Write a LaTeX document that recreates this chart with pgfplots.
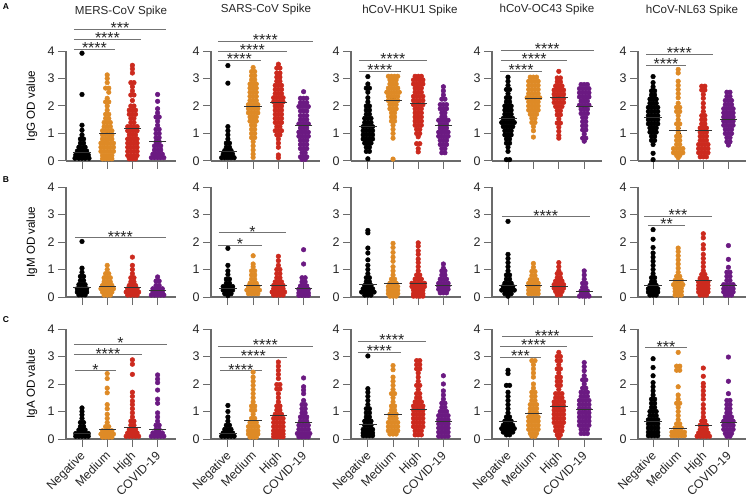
\documentclass[border=0pt]{standalone}
\usepackage{fontspec}
\setmainfont{Liberation Sans}
\usepackage{pgfplots}
\pgfplotsset{compat=1.18}
\definecolor{cor}{HTML}{DE8A26}
\definecolor{crd}{HTML}{CC2A1E}
\definecolor{cpp}{HTML}{6B1A82}
\definecolor{axc}{gray}{0.42}
\pgfplotsset{
  pnl/.style={scale only axis,height=110pt,ymin=0,ymax=4,clip=false,
    axis y line*=left,axis x line*=bottom,axis line style={axc,line width=1.1pt,-},
    tick style={axc,line width=1pt},tick align=outside,major tick length=8pt,
    ytick={0,1,2,3,4},xtick={0,1,2,3},xticklabels={},
    /pgf/number format/assume math mode=true,
    tick label style={font=\fontsize{12.5}{12.5}\selectfont,text=black!85},
    ylabel style={font=\fontsize{11.6}{12}\selectfont,at={(axis description cs:-.31,.5)},anchor=center}},
  low/.style={xticklabels={Negative,Medium,High,COVID-19},
    x tick label style={rotate=45,anchor=north east,inner sep=1pt,xshift=-3pt,yshift=.5pt,font=\fontsize{12.2}{12.2}\selectfont}},
  % swarm offsets squeezed towards the category centre
  dot/.style={only marks,mark=*,color=#1,line width=.5pt,mark size=2.3pt,mark options={solid,fill=#1},forget plot,
    x filter/.expression={round(x)+.62*(x-round(x))}},
  mn/.style={only marks,mark=-,mark size=8.7pt,mark options={draw=black!80,line width=.7pt},forget plot,
    error bars/.cd,y dir=both,y explicit,error mark options={rotate=90,mark size=2.6pt,line width=.6pt,black},
    error bar style={black!80,line width=.7pt}},
  sg/.style={black!55,line width=1pt,forget plot}
}
\newcommand{\sig}[4]{\addplot[sg] coordinates {(#1,#3)(#2,#3)} node[pos=.5,anchor=base,yshift=-4.3pt,inner sep=0pt,text=black!85,font=\fontsize{16}{16}\selectfont]{#4};}
\newcommand{\ttl}[3]{\node[font=\fontsize{11.6}{12}\selectfont,text=black!85] at (#1pt,#2pt) {#3};}
\begin{document}
\begin{tikzpicture}
\path[use as bounding box] (0pt,0pt) rectangle (750pt,496pt);
\ttl{121}{484}{MERS-CoV Spike}
\ttl{266}{486}{SARS-CoV Spike}
\ttl{410}{485}{hCoV-HKU1 Spike}
\ttl{547}{486}{hCoV-OC43 Spike}
\ttl{692}{485}{hCoV-NL63 Spike}
\node[font=\bfseries\fontsize{8.5}{9}\selectfont] at (6pt,489pt) {A};
\node[font=\bfseries\fontsize{8.5}{9}\selectfont] at (6pt,316pt) {B};
\node[font=\bfseries\fontsize{8.5}{9}\selectfont] at (6pt,176pt) {C};

% row A: IgG
\begin{axis}[pnl,name=a1,at={(66pt,335pt)},anchor=south west,width=110pt,xmin=-.635,xmax=3.73,ylabel={IgG OD value}]
\addplot[dot=black] coordinates {(0,3.92)(0,2.42)(0,1.3)(0,1.12)(0,.95)(-.1,.8)(.1,.8)(-.1,.65)(.1,.65)(-.2,.5)(0,.5)(.2,.5)(-.3,.36)(-.1,.36)(.1,.36)(.3,.36)(-.4,.22)(-.2,.22)(0,.22)(.2,.22)(.4,.22)(-.45,.1)(-.2,.1)(0,.1)(.2,.1)(.45,.1)};
\addplot[dot=cor] coordinates {(1,3.13)(1,3)(1,2.85)(.9,2.65)(1.1,2.65)(1.1,2.5)(1,2.28)(.9,2.15)(1.1,2.15)(1,2)(1,1.85)(.9,1.7)(1.1,1.7)(.9,1.55)(1.1,1.55)(.8,1.4)(1,1.4)(1.2,1.4)(.8,1.25)(1,1.25)(1.2,1.25)(.7,1.1)(.9,1.1)(1.1,1.1)(1.3,1.1)(.7,.95)(.9,.95)(1.1,.95)(1.3,.95)(.7,.8)(.9,.8)(1.1,.8)(1.3,.8)(.6,.65)(.8,.65)(1,.65)(1.2,.65)(1.4,.65)(.6,.5)(.8,.5)(1,.5)(1.2,.5)(1.4,.5)(.6,.35)(.8,.35)(1,.35)(1.2,.35)(1.4,.35)(.7,.2)(.9,.2)(1.1,.2)(1.3,.2)(.7,.08)(.9,.08)(1.1,.08)(1.3,.08)};
\addplot[dot=crd] coordinates {(2,3.48)(2,3.35)(2,3.2)(1.9,2.85)(2.1,2.85)(2,2.7)(2,2.55)(1.9,2.4)(2.1,2.4)(2,2.2)(1.9,2)(2.1,2)(1.8,1.85)(2,1.85)(2.2,1.85)(1.8,1.7)(2,1.7)(2.2,1.7)(1.9,1.55)(2.1,1.55)(1.9,1.4)(2.1,1.4)(1.7,1.25)(1.9,1.25)(2.1,1.25)(2.3,1.25)(1.7,1.1)(1.9,1.1)(2.1,1.1)(2.3,1.1)(1.8,.95)(2,.95)(2.2,.95)(1.7,.8)(1.9,.8)(2.1,.8)(2.3,.8)(1.7,.65)(1.9,.65)(2.1,.65)(2.3,.65)(1.7,.5)(1.9,.5)(2.1,.5)(2.3,.5)(1.7,.35)(1.9,.35)(2.1,.35)(2.3,.35)(1.7,.2)(1.9,.2)(2.1,.2)(2.3,.2)(1.8,.08)(2,.08)(2.2,.08)};
\addplot[dot=cpp] coordinates {(3,2.42)(3,2.17)(3,1.9)(3,1.75)(2.9,1.6)(3.1,1.6)(3,1.45)(3,1.3)(2.9,1.15)(3.1,1.15)(2.9,1)(3.1,1)(2.9,.85)(3.1,.85)(2.9,.7)(3.1,.7)(2.8,.55)(3,.55)(3.2,.55)(2.8,.4)(3,.4)(3.2,.4)(2.7,.25)(2.9,.25)(3.1,.25)(3.3,.25)(2.6,.12)(2.8,.12)(3,.12)(3.2,.12)(3.4,.12)};
\addplot[mn] coordinates {(0,.33)+-(.38,.03)(1,1)+-(.38,.06)(2,1.2)+-(.38,.07)(3,.72)+-(.38,.08)};
\sig{-.32}{1.31}{4.07}{****}
\sig{-.32}{2.34}{4.42}{****}
\sig{-.32}{3.33}{4.79}{***}
\end{axis}

\begin{axis}[pnl,at={(211pt,335pt)},anchor=south west,width=109pt,xmin=-.67,xmax=3.65]
\addplot[dot=black] coordinates {(0,3.47)(0,2.83)(0,1.25)(0,1.1)(0,.95)(0,.8)(-.1,.65)(.1,.65)(-.1,.5)(.1,.5)(-.2,.38)(0,.38)(.2,.38)(-.3,.25)(-.1,.25)(.1,.25)(.3,.25)(-.4,.12)(-.2,.12)(0,.12)(.2,.12)(.4,.12)};
\addplot[dot=cor] coordinates {(1,3.4)(.9,3.25)(1.1,3.25)(.9,3.1)(1.1,3.1)(.9,2.95)(1.1,2.95)(.8,2.8)(1,2.8)(1.2,2.8)(.8,2.65)(1,2.65)(1.2,2.65)(.8,2.5)(1,2.5)(1.2,2.5)(.8,2.35)(1,2.35)(1.2,2.35)(.8,2.2)(1,2.2)(1.2,2.2)(.7,2.05)(.9,2.05)(1.1,2.05)(1.3,2.05)(.7,1.9)(.9,1.9)(1.1,1.9)(1.3,1.9)(.7,1.75)(.9,1.75)(1.1,1.75)(1.3,1.75)(.8,1.6)(1,1.6)(1.2,1.6)(.8,1.45)(1,1.45)(1.2,1.45)(.9,1.3)(1.1,1.3)(.9,1.15)(1.1,1.15)(.9,1)(1.1,1)(.9,.85)(1.1,.85)(1,.7)(1,.55)(1,.4)(1,.25)(1,.13)};
\addplot[dot=crd] coordinates {(2,3.52)(1.9,3.38)(2.1,3.38)(1.9,3.2)(2.1,3.2)(1.9,3.05)(2.1,3.05)(1.9,2.9)(2.1,2.9)(1.8,2.75)(2,2.75)(2.2,2.75)(1.8,2.6)(2,2.6)(2.2,2.6)(1.8,2.45)(2,2.45)(2.2,2.45)(1.7,2.3)(1.9,2.3)(2.1,2.3)(2.3,2.3)(1.7,2.15)(1.9,2.15)(2.1,2.15)(2.3,2.15)(1.8,2)(2,2)(2.2,2)(1.8,1.85)(2,1.85)(2.2,1.85)(1.8,1.7)(2,1.7)(2.2,1.7)(1.8,1.55)(2,1.55)(2.2,1.55)(1.8,1.4)(2,1.4)(2.2,1.4)(1.9,1.25)(2.1,1.25)(1.8,1.1)(2,1.1)(2.2,1.1)(1.9,.95)(2.1,.95)(2,.8)(2,.65)(2,.5)(2,.22)(2,.12)};
\addplot[dot=cpp] coordinates {(3,2.52)(2.8,2.28)(3,2.28)(3.2,2.28)(2.8,2.12)(3,2.12)(3.2,2.12)(2.7,1.98)(2.9,1.98)(3.1,1.98)(3.3,1.98)(2.8,1.82)(3,1.82)(3.2,1.82)(2.8,1.65)(3,1.65)(3.2,1.65)(2.8,1.5)(3,1.5)(3.2,1.5)(2.7,1.35)(2.9,1.35)(3.1,1.35)(3.3,1.35)(2.8,1.2)(3,1.2)(3.2,1.2)(2.7,1.05)(2.9,1.05)(3.1,1.05)(3.3,1.05)(2.7,.9)(2.9,.9)(3.1,.9)(3.3,.9)(2.8,.75)(3,.75)(3.2,.75)(2.8,.6)(3,.6)(3.2,.6)(2.8,.45)(3,.45)(3.2,.45)(2.9,.3)(3.1,.3)(2.8,.15)(3,.15)(3.2,.15)(2.9,.06)(3.1,.06)};
\addplot[mn] coordinates {(0,.35)+-(.38,.03)(1,1.98)+-(.38,.06)(2,2.13)+-(.38,.06)(3,1.3)+-(.38,.07)};
\sig{-.4}{1.31}{3.65}{****}
\sig{-.4}{2.34}{4}{****}
\sig{-.4}{3.37}{4.35}{****}
\end{axis}

\begin{axis}[pnl,at={(351pt,335pt)},anchor=south west,width=110pt,xmin=-.67,xmax=3.7]
\addplot[dot=black] coordinates {(0,3.07)(0,2.8)(-.1,2.65)(.1,2.65)(0,2.5)(0,2.3)(0,2.15)(-.1,2)(.1,2)(-.1,1.85)(.1,1.85)(-.1,1.7)(.1,1.7)(-.2,1.55)(0,1.55)(.2,1.55)(-.2,1.4)(0,1.4)(.2,1.4)(-.3,1.25)(-.1,1.25)(.1,1.25)(.3,1.25)(-.3,1.1)(-.1,1.1)(.1,1.1)(.3,1.1)(-.3,.95)(-.1,.95)(.1,.95)(.3,.95)(-.3,.8)(-.1,.8)(.1,.8)(.3,.8)(-.2,.65)(0,.65)(.2,.65)(-.1,.5)(.1,.5)(-.1,.35)(.1,.35)(0,.08)};
\addplot[dot=cor] coordinates {(.7,3.08)(.9,3.08)(1.1,3.08)(1.3,3.08)(.8,2.95)(1,2.95)(1.2,2.95)(.8,2.8)(1,2.8)(1.2,2.8)(.7,2.65)(.9,2.65)(1.1,2.65)(1.3,2.65)(.6,2.5)(.8,2.5)(1,2.5)(1.2,2.5)(1.4,2.5)(.7,2.35)(.9,2.35)(1.1,2.35)(1.3,2.35)(.7,2.2)(.9,2.2)(1.1,2.2)(1.3,2.2)(.8,2.05)(1,2.05)(1.2,2.05)(.8,1.9)(1,1.9)(1.2,1.9)(.9,1.75)(1.1,1.75)(.9,1.6)(1.1,1.6)(.9,1.45)(1.1,1.45)(1,1.3)(1,1.15)(1,1)(1,.83)(1,.07)};
\addplot[dot=crd] coordinates {(1.8,3.08)(2,3.08)(2.2,3.08)(1.7,2.95)(1.9,2.95)(2.1,2.95)(2.3,2.95)(1.7,2.8)(1.9,2.8)(2.1,2.8)(2.3,2.8)(1.8,2.65)(2,2.65)(2.2,2.65)(1.8,2.5)(2,2.5)(2.2,2.5)(1.7,2.35)(1.9,2.35)(2.1,2.35)(2.3,2.35)(1.7,2.2)(1.9,2.2)(2.1,2.2)(2.3,2.2)(1.7,2.05)(1.9,2.05)(2.1,2.05)(2.3,2.05)(1.8,1.9)(2,1.9)(2.2,1.9)(1.8,1.75)(2,1.75)(2.2,1.75)(1.8,1.6)(2,1.6)(2.2,1.6)(1.8,1.45)(2,1.45)(2.2,1.45)(1.8,1.3)(2,1.3)(2.2,1.3)(1.9,1.15)(2.1,1.15)(1.9,1)(2.1,1)(2,.88)(1.9,.63)(2.1,.63)(2,.45)(2,.33)};
\addplot[dot=cpp] coordinates {(3,2.7)(3,2.55)(3,2.4)(2.9,2.25)(3.1,2.25)(2.8,2.05)(3,2.05)(3.2,2.05)(2.8,1.9)(3,1.9)(3.2,1.9)(2.9,1.75)(3.1,1.75)(2.9,1.6)(3.1,1.6)(2.7,1.48)(2.9,1.48)(3.1,1.48)(3.3,1.48)(2.8,1.33)(3,1.33)(3.2,1.33)(2.8,1.2)(3,1.2)(3.2,1.2)(2.7,1.05)(2.9,1.05)(3.1,1.05)(3.3,1.05)(2.7,.9)(2.9,.9)(3.1,.9)(3.3,.9)(2.8,.75)(3,.75)(3.2,.75)(2.8,.6)(3,.6)(3.2,.6)(2.9,.45)(3.1,.45)(2.9,.3)(3.1,.3)};
\addplot[mn] coordinates {(0,1.25)+-(.38,.03)(1,2.22)+-(.38,.06)(2,2.08)+-(.38,.06)(3,1.28)+-(.38,.06)};
\sig{-.36}{1.31}{3.27}{****}
\sig{-.36}{2.34}{3.66}{****}
\end{axis}

\begin{axis}[pnl,at={(492pt,335pt)},anchor=south west,width=110pt,xmin=-.63,xmax=3.7]
\addplot[dot=black] coordinates {(0,3.05)(0,2.9)(0,2.75)(-.1,2.6)(.1,2.6)(0,2.45)(-.1,2.3)(.1,2.3)(-.1,2.15)(.1,2.15)(-.2,2)(0,2)(.2,2)(-.2,1.85)(0,1.85)(.2,1.85)(-.2,1.7)(0,1.7)(.2,1.7)(-.3,1.55)(-.1,1.55)(.1,1.55)(.3,1.55)(-.4,1.4)(-.2,1.4)(0,1.4)(.2,1.4)(.4,1.4)(-.3,1.25)(-.1,1.25)(.1,1.25)(.3,1.25)(-.2,1.1)(0,1.1)(.2,1.1)(-.2,.95)(0,.95)(.2,.95)(-.1,.8)(.1,.8)(-.1,.65)(.1,.65)(0,.5)(0,.35)(-.1,.05)(.1,.05)};
\addplot[dot=cor] coordinates {(.8,3.05)(1,3.05)(1.2,3.05)(.7,2.9)(.9,2.9)(1.1,2.9)(1.3,2.9)(.7,2.75)(.9,2.75)(1.1,2.75)(1.3,2.75)(.7,2.6)(.9,2.6)(1.1,2.6)(1.3,2.6)(.7,2.45)(.9,2.45)(1.1,2.45)(1.3,2.45)(.6,2.3)(.8,2.3)(1,2.3)(1.2,2.3)(1.4,2.3)(.7,2.15)(.9,2.15)(1.1,2.15)(1.3,2.15)(.7,2)(.9,2)(1.1,2)(1.3,2)(.7,1.85)(.9,1.85)(1.1,1.85)(1.3,1.85)(.8,1.7)(1,1.7)(1.2,1.7)(.9,1.55)(1.1,1.55)(.9,1.4)(1.1,1.4)(1,1.25)(1,1.1)(1,.87)};
\addplot[dot=crd] coordinates {(2,3.26)(1.9,3.02)(2.1,3.02)(1.9,2.88)(2.1,2.88)(1.8,2.73)(2,2.73)(2.2,2.73)(1.7,2.58)(1.9,2.58)(2.1,2.58)(2.3,2.58)(1.7,2.43)(1.9,2.43)(2.1,2.43)(2.3,2.43)(1.7,2.28)(1.9,2.28)(2.1,2.28)(2.3,2.28)(1.7,2.13)(1.9,2.13)(2.1,2.13)(2.3,2.13)(1.8,1.98)(2,1.98)(2.2,1.98)(1.9,1.83)(2.1,1.83)(1.9,1.68)(2.1,1.68)(2,1.53)(1.9,1.38)(2.1,1.38)(2,1.23)(2,1.08)(2,.93)(2,.83)};
\addplot[dot=cpp] coordinates {(2.8,2.78)(3,2.78)(3.2,2.78)(2.7,2.63)(2.9,2.63)(3.1,2.63)(3.3,2.63)(2.7,2.48)(2.9,2.48)(3.1,2.48)(3.3,2.48)(2.7,2.33)(2.9,2.33)(3.1,2.33)(3.3,2.33)(2.8,2.18)(3,2.18)(3.2,2.18)(2.7,2.03)(2.9,2.03)(3.1,2.03)(3.3,2.03)(2.8,1.88)(3,1.88)(3.2,1.88)(2.8,1.73)(3,1.73)(3.2,1.73)(2.9,1.58)(3.1,1.58)(2.9,1.43)(3.1,1.43)(2.9,1.28)(3.1,1.28)(2.9,1.13)(3.1,1.13)(3,.98)(2.9,.83)(3.1,.83)(3,.72)};
\addplot[mn] coordinates {(0,1.55)+-(.38,.03)(1,2.28)+-(.38,.04)(2,2.3)+-(.38,.04)(3,2)+-(.38,.05)};
\sig{-.32}{1.35}{3.27}{****}
\sig{-.28}{2.34}{3.65}{****}
\sig{-.28}{3.37}{4.03}{****}
\end{axis}

\begin{axis}[pnl,at={(638pt,335pt)},anchor=south west,width=108pt,xmin=-.6,xmax=3.7]
\addplot[dot=black] coordinates {(0,3.07)(0,2.85)(0,2.7)(-.1,2.55)(.1,2.55)(-.1,2.4)(.1,2.4)(-.2,2.25)(0,2.25)(.2,2.25)(-.2,2.1)(0,2.1)(.2,2.1)(-.3,1.95)(-.1,1.95)(.1,1.95)(.3,1.95)(-.3,1.8)(-.1,1.8)(.1,1.8)(.3,1.8)(-.3,1.65)(-.1,1.65)(.1,1.65)(.3,1.65)(-.3,1.5)(-.1,1.5)(.1,1.5)(.3,1.5)(-.3,1.35)(-.1,1.35)(.1,1.35)(.3,1.35)(-.2,1.2)(0,1.2)(.2,1.2)(-.2,1.05)(0,1.05)(.2,1.05)(-.1,.9)(.1,.9)(-.1,.75)(.1,.75)(0,.6)(0,.28)(0,.05)};
\addplot[dot=cor] coordinates {(1,3.33)(1,3.2)(1,2.9)(1,2.75)(1,2.6)(1,2.45)(1,2.3)(1,2.1)(.9,1.95)(1.1,1.95)(.9,1.8)(1.1,1.8)(1,1.65)(1,1.5)(.9,1.35)(1.1,1.35)(1,1.2)(1,1.05)(.9,.9)(1.1,.9)(.9,.75)(1.1,.75)(.9,.6)(1.1,.6)(.7,.45)(.9,.45)(1.1,.45)(1.3,.45)(.7,.3)(.9,.3)(1.1,.3)(1.3,.3)(.9,.2)(1.1,.2)(1,.12)};
\addplot[dot=crd] coordinates {(1.9,2.72)(2.1,2.72)(1.9,2.58)(2.1,2.58)(2,2.42)(2,2.28)(2,2.1)(2,1.95)(2,1.8)(1.9,1.65)(2.1,1.65)(1.9,1.5)(2.1,1.5)(1.9,1.35)(2.1,1.35)(1.8,1.2)(2,1.2)(2.2,1.2)(1.8,1.05)(2,1.05)(2.2,1.05)(1.8,.9)(2,.9)(2.2,.9)(1.8,.75)(2,.75)(2.2,.75)(1.7,.6)(1.9,.6)(2.1,.6)(2.3,.6)(1.7,.45)(1.9,.45)(2.1,.45)(2.3,.45)(1.7,.3)(1.9,.3)(2.1,.3)(2.3,.3)(1.8,.15)(2,.15)(2.2,.15)};
\addplot[dot=cpp] coordinates {(2.9,2.5)(3.1,2.5)(2.9,2.35)(3.1,2.35)(2.8,2.2)(3,2.2)(3.2,2.2)(2.8,2.05)(3,2.05)(3.2,2.05)(2.7,1.9)(2.9,1.9)(3.1,1.9)(3.3,1.9)(2.7,1.75)(2.9,1.75)(3.1,1.75)(3.3,1.75)(2.7,1.6)(2.9,1.6)(3.1,1.6)(3.3,1.6)(2.7,1.45)(2.9,1.45)(3.1,1.45)(3.3,1.45)(2.7,1.3)(2.9,1.3)(3.1,1.3)(3.3,1.3)(2.8,1.15)(3,1.15)(3.2,1.15)(2.8,1)(3,1)(3.2,1)(2.9,.85)(3.1,.85)(2.9,.7)(3.1,.7)(3,.58)};
\addplot[mn] coordinates {(0,1.58)+-(.38,.03)(1,1.1)+-(.38,.08)(2,1.1)+-(.38,.07)(3,1.53)+-(.38,.06)};
\sig{-.28}{1.31}{3.47}{****}
\sig{-.28}{2.38}{3.87}{****}
\end{axis}

% row B: IgM
\begin{axis}[pnl,at={(66pt,199pt)},anchor=south west,width=110pt,xmin=-.635,xmax=3.73,ylabel={IgM OD value}]
\addplot[dot=black] coordinates {(0,2.02)(0,1.05)(0,.9)(-.1,.75)(.1,.75)(-.1,.6)(.1,.6)(-.2,.45)(0,.45)(.2,.45)(-.3,.3)(-.1,.3)(.1,.3)(.3,.3)(-.3,.18)(-.1,.18)(.1,.18)(.3,.18)(-.2,.08)(0,.08)(.2,.08)};
\addplot[dot=cor] coordinates {(1,1.15)(1,1)(.9,.85)(1.1,.85)(.8,.7)(1,.7)(1.2,.7)(.8,.55)(1,.55)(1.2,.55)(.7,.42)(.9,.42)(1.1,.42)(1.3,.42)(.6,.3)(.8,.3)(1,.3)(1.2,.3)(1.4,.3)(.7,.18)(.9,.18)(1.1,.18)(1.3,.18)(.8,.07)(1,.07)(1.2,.07)};
\addplot[dot=crd] coordinates {(2,1.45)(2,1.15)(2,1)(2,.85)(1.9,.7)(2.1,.7)(1.9,.55)(2.1,.55)(1.8,.42)(2,.42)(2.2,.42)(1.7,.3)(1.9,.3)(2.1,.3)(2.3,.3)(1.6,.18)(1.8,.18)(2,.18)(2.2,.18)(2.4,.18)(1.7,.07)(1.9,.07)(2.1,.07)(2.3,.07)};
\addplot[dot=cpp] coordinates {(3,.73)(2.9,.58)(3.1,.58)(2.9,.42)(3.1,.42)(2.7,.3)(2.9,.3)(3.1,.3)(3.3,.3)(2.7,.18)(2.9,.18)(3.1,.18)(3.3,.18)(2.6,.07)(2.8,.07)(3,.07)(3.2,.07)(3.4,.07)};
\addplot[mn] coordinates {(0,.35)+-(.38,.02)(1,.4)+-(.38,.02)(2,.35)+-(.38,.02)(3,.24)+-(.38,.02)};
\sig{-.28}{3.33}{2.15}{****}
\end{axis}

\begin{axis}[pnl,at={(211pt,199pt)},anchor=south west,width=109pt,xmin=-.67,xmax=3.65]
\addplot[dot=black] coordinates {(0,1.77)(0,1.15)(0,.95)(0,.82)(-.1,.65)(.1,.65)(-.1,.5)(.1,.5)(-.3,.38)(-.1,.38)(.1,.38)(.3,.38)(-.3,.25)(-.1,.25)(.1,.25)(.3,.25)(-.2,.12)(0,.12)(.2,.12)(0,.05)};
\addplot[dot=cor] coordinates {(1,1.5)(1,1.2)(1,1.1)(.9,.95)(1.1,.95)(.9,.8)(1.1,.8)(.9,.65)(1.1,.65)(.8,.5)(1,.5)(1.2,.5)(.7,.38)(.9,.38)(1.1,.38)(1.3,.38)(.6,.25)(.8,.25)(1,.25)(1.2,.25)(1.4,.25)(.7,.12)(.9,.12)(1.1,.12)(1.3,.12)};
\addplot[dot=crd] coordinates {(2,1.48)(2,1.32)(2,1.15)(1.9,1)(2.1,1)(1.9,.85)(2.1,.85)(1.9,.7)(2.1,.7)(1.8,.55)(2,.55)(2.2,.55)(1.7,.42)(1.9,.42)(2.1,.42)(2.3,.42)(1.7,.3)(1.9,.3)(2.1,.3)(2.3,.3)(1.6,.18)(1.8,.18)(2,.18)(2.2,.18)(2.4,.18)(1.7,.07)(1.9,.07)(2.1,.07)(2.3,.07)};
\addplot[dot=cpp] coordinates {(3,1.72)(3,1.2)(2.9,.7)(3.1,.7)(2.9,.55)(3.1,.55)(2.8,.4)(3,.4)(3.2,.4)(2.7,.28)(2.9,.28)(3.1,.28)(3.3,.28)(2.7,.15)(2.9,.15)(3.1,.15)(3.3,.15)(2.7,.06)(2.9,.06)(3.1,.06)(3.3,.06)};
\addplot[mn] coordinates {(0,.33)+-(.38,.02)(1,.44)+-(.38,.02)(2,.44)+-(.38,.02)(3,.33)+-(.38,.02)};
\sig{-.4}{1.35}{1.89}{*}
\sig{-.36}{2.3}{2.33}{*}
\end{axis}

\begin{axis}[pnl,at={(351pt,199pt)},anchor=south west,width=110pt,xmin=-.67,xmax=3.7]
\addplot[dot=black] coordinates {(0,2.42)(0,2.33)(0,1.78)(0,1.6)(0,1.35)(0,1.15)(0,1)(0,.85)(-.1,.7)(.1,.7)(-.1,.55)(.1,.55)(-.2,.42)(0,.42)(.2,.42)(-.3,.3)(-.1,.3)(.1,.3)(.3,.3)(-.4,.18)(-.2,.18)(0,.18)(.2,.18)(.4,.18)(-.2,.07)(0,.07)(.2,.07)};
\addplot[dot=cor] coordinates {(1,1.95)(1,1.8)(1,1.62)(1,1.45)(1,1.3)(1,1.1)(1,.95)(1,.8)(.9,.65)(1.1,.65)(.8,.5)(1,.5)(1.2,.5)(.7,.38)(.9,.38)(1.1,.38)(1.3,.38)(.7,.25)(.9,.25)(1.1,.25)(1.3,.25)(.7,.12)(.9,.12)(1.1,.12)(1.3,.12)(.8,.03)(1,.03)(1.2,.03)};
\addplot[dot=crd] coordinates {(2,1.97)(2,1.85)(2,1.68)(2,1.55)(2,1.38)(2,1.25)(2,1.1)(2,.95)(1.9,.8)(2.1,.8)(1.8,.65)(2,.65)(2.2,.65)(1.6,.5)(1.8,.5)(2,.5)(2.2,.5)(2.4,.5)(1.6,.38)(1.8,.38)(2,.38)(2.2,.38)(2.4,.38)(1.7,.25)(1.9,.25)(2.1,.25)(2.3,.25)(1.7,.12)(1.9,.12)(2.1,.12)(2.3,.12)(1.7,.03)(1.9,.03)(2.1,.03)(2.3,.03)};
\addplot[dot=cpp] coordinates {(3,1.2)(3,1.05)(2.9,.95)(3.1,.95)(2.9,.8)(3.1,.8)(2.8,.65)(3,.65)(3.2,.65)(2.7,.5)(2.9,.5)(3.1,.5)(3.3,.5)(2.7,.4)(2.9,.4)(3.1,.4)(3.3,.4)(2.7,.28)(2.9,.28)(3.1,.28)(3.3,.28)(2.8,.15)(3,.15)(3.2,.15)};
\addplot[mn] coordinates {(0,.47)+-(.38,.03)(1,.5)+-(.38,.04)(2,.5)+-(.38,.03)(3,.43)+-(.38,.02)};
\end{axis}

\begin{axis}[pnl,at={(492pt,199pt)},anchor=south west,width=110pt,xmin=-.63,xmax=3.7]
\addplot[dot=black] coordinates {(0,2.75)(0,1.55)(0,1.4)(0,1.25)(0,1.1)(0,.95)(-.1,.8)(.1,.8)(-.1,.65)(.1,.65)(-.2,.5)(0,.5)(.2,.5)(-.3,.38)(-.1,.38)(.1,.38)(.3,.38)(-.4,.25)(-.2,.25)(0,.25)(.2,.25)(.4,.25)(-.2,.12)(0,.12)(.2,.12)(0,.03)};
\addplot[dot=cor] coordinates {(1,1.22)(1,1.08)(.9,.93)(1.1,.93)(.9,.78)(1.1,.78)(.8,.63)(1,.63)(1.2,.63)(.7,.5)(.9,.5)(1.1,.5)(1.3,.5)(.7,.38)(.9,.38)(1.1,.38)(1.3,.38)(.7,.25)(.9,.25)(1.1,.25)(1.3,.25)(.7,.12)(.9,.12)(1.1,.12)(1.3,.12)};
\addplot[dot=crd] coordinates {(2,1.25)(2,1.1)(2,.95)(1.9,.85)(2.1,.85)(1.9,.7)(2.1,.7)(1.8,.58)(2,.58)(2.2,.58)(1.7,.45)(1.9,.45)(2.1,.45)(2.3,.45)(1.7,.32)(1.9,.32)(2.1,.32)(2.3,.32)(1.8,.2)(2,.2)(2.2,.2)(1.9,.08)(2.1,.08)};
\addplot[dot=cpp] coordinates {(3,.95)(3,.8)(3,.65)(2.9,.5)(3.1,.5)(2.9,.35)(3.1,.35)(2.8,.22)(3,.22)(3.2,.22)(2.8,.1)(3,.1)(3.2,.1)(2.7,.03)(2.9,.03)(3.1,.03)(3.3,.03)};
\addplot[mn] coordinates {(0,.42)+-(.38,.02)(1,.41)+-(.38,.02)(2,.4)+-(.38,.02)(3,.21)+-(.38,.02)};
\sig{-.24}{3.21}{2.92}{****}
\end{axis}

\begin{axis}[pnl,at={(638pt,199pt)},anchor=south west,width=108pt,xmin=-.6,xmax=3.7]
\addplot[dot=black] coordinates {(0,2.45)(0,2.1)(0,1.8)(0,1.6)(0,1.45)(0,1.3)(0,1.15)(0,1)(0,.85)(-.1,.7)(.1,.7)(-.1,.55)(.1,.55)(-.2,.42)(0,.42)(.2,.42)(-.3,.3)(-.1,.3)(.1,.3)(.3,.3)(-.3,.18)(-.1,.18)(.1,.18)(.3,.18)(-.2,.07)(0,.07)(.2,.07)};
\addplot[dot=cor] coordinates {(1,1.78)(1,1.65)(1,1.5)(1,1.35)(1,1.2)(1,1.05)(1,.9)(.9,.75)(1.1,.75)(.8,.6)(1,.6)(1.2,.6)(.7,.45)(.9,.45)(1.1,.45)(1.3,.45)(.8,.32)(1,.32)(1.2,.32)(.8,.2)(1,.2)(1.2,.2)(.8,.07)(1,.07)(1.2,.07)};
\addplot[dot=crd] coordinates {(2,2.3)(2,2.15)(2,1.9)(2,1.75)(2,1.55)(2,1.4)(2,1.25)(2,1.1)(2,.95)(1.9,.82)(2.1,.82)(1.8,.68)(2,.68)(2.2,.68)(1.7,.55)(1.9,.55)(2.1,.55)(2.3,.55)(1.7,.42)(1.9,.42)(2.1,.42)(2.3,.42)(1.7,.3)(1.9,.3)(2.1,.3)(2.3,.3)(1.7,.18)(1.9,.18)(2.1,.18)(2.3,.18)(1.8,.07)(2,.07)(2.2,.07)};
\addplot[dot=cpp] coordinates {(3,1.87)(3,1.37)(3,1.08)(2.9,.9)(3.1,.9)(2.9,.75)(3.1,.75)(2.9,.6)(3.1,.6)(2.7,.45)(2.9,.45)(3.1,.45)(3.3,.45)(2.7,.3)(2.9,.3)(3.1,.3)(3.3,.3)(2.7,.18)(2.9,.18)(3.1,.18)(3.3,.18)(2.8,.07)(3,.07)(3.2,.07)};
\addplot[mn] coordinates {(0,.44)+-(.38,.03)(1,.6)+-(.38,.05)(2,.62)+-(.38,.03)(3,.43)+-(.38,.02)};
\sig{-.2}{1.27}{2.6}{**}
\sig{-.36}{2.34}{2.93}{***}
\end{axis}

% row C: IgA
\begin{axis}[pnl,low,at={(66pt,57pt)},anchor=south west,width=110pt,xmin=-.635,xmax=3.73,ylabel={IgA OD value}]
\addplot[dot=black] coordinates {(0,1.13)(0,1)(0,.88)(0,.75)(-.1,.6)(.1,.6)(-.1,.45)(.1,.45)(-.2,.33)(0,.33)(.2,.33)(-.4,.2)(-.2,.2)(0,.2)(.2,.2)(.4,.2)(-.4,.1)(-.2,.1)(0,.1)(.2,.1)(.4,.1)};
\addplot[dot=cor] coordinates {(1,2.38)(1,2.2)(1,1.85)(1,1.68)(1,1.25)(1,1.1)(1,.9)(1,.75)(1,.6)(.9,.45)(1.1,.45)(.7,.3)(.9,.3)(1.1,.3)(1.3,.3)(.6,.18)(.8,.18)(1,.18)(1.2,.18)(1.4,.18)(.7,.07)(.9,.07)(1.1,.07)(1.3,.07)};
\addplot[dot=crd] coordinates {(2,2.88)(2,2.72)(2,2.35)(2,1.7)(2,1.55)(2,1.38)(2,1.25)(2,1.1)(2,.95)(2,.8)(1.9,.65)(2.1,.65)(1.9,.5)(2.1,.5)(1.8,.35)(2,.35)(2.2,.35)(1.7,.22)(1.9,.22)(2.1,.22)(2.3,.22)(1.6,.1)(1.8,.1)(2,.1)(2.2,.1)(2.4,.1)};
\addplot[dot=cpp] coordinates {(3,2.33)(3,2.18)(3,2.05)(3,1.78)(3,1.45)(3,1.3)(3,.95)(3,.8)(3,.65)(2.9,.5)(3.1,.5)(2.9,.35)(3.1,.35)(2.7,.22)(2.9,.22)(3.1,.22)(3.3,.22)(2.6,.1)(2.8,.1)(3,.1)(3.2,.1)(3.4,.1)};
\addplot[mn] coordinates {(0,.2)+-(.38,.02)(1,.36)+-(.38,.03)(2,.42)+-(.38,.04)(3,.36)+-(.38,.04)};
\sig{-.28}{1.35}{2.48}{*}
\sig{-.32}{2.38}{3.06}{****}
\sig{-.32}{3.37}{3.44}{*}
\end{axis}

\begin{axis}[pnl,low,at={(211pt,57pt)},anchor=south west,width=109pt,xmin=-.67,xmax=3.65]
\addplot[dot=black] coordinates {(0,1.22)(0,1)(0,.8)(0,.65)(-.1,.5)(.1,.5)(-.2,.35)(0,.35)(.2,.35)(-.3,.22)(-.1,.22)(.1,.22)(.3,.22)(-.4,.1)(-.2,.1)(0,.1)(.2,.1)(.4,.1)};
\addplot[dot=cor] coordinates {(1,2.43)(1,2.25)(1,2.1)(1,1.95)(1,1.8)(1,1.65)(1,1.5)(1,1.35)(.9,1.2)(1.1,1.2)(.9,1.05)(1.1,1.05)(1,.9)(.9,.75)(1.1,.75)(.8,.6)(1,.6)(1.2,.6)(.7,.45)(.9,.45)(1.1,.45)(1.3,.45)(.7,.3)(.9,.3)(1.1,.3)(1.3,.3)(.7,.18)(.9,.18)(1.1,.18)(1.3,.18)(.8,.07)(1,.07)(1.2,.07)};
\addplot[dot=crd] coordinates {(2,2.8)(2,2.65)(2,2.5)(2,2.35)(2,2.2)(1.9,1.98)(2.1,1.98)(1.9,1.82)(2.1,1.82)(2,1.65)(2,1.5)(2,1.35)(1.9,1.2)(2.1,1.2)(1.9,1.05)(2.1,1.05)(1.8,.9)(2,.9)(2.2,.9)(1.7,.75)(1.9,.75)(2.1,.75)(2.3,.75)(1.7,.6)(1.9,.6)(2.1,.6)(2.3,.6)(1.7,.45)(1.9,.45)(2.1,.45)(2.3,.45)(1.7,.3)(1.9,.3)(2.1,.3)(2.3,.3)(1.7,.18)(1.9,.18)(2.1,.18)(2.3,.18)(1.7,.08)(1.9,.08)(2.1,.08)(2.3,.08)};
\addplot[dot=cpp] coordinates {(3,2.22)(3,1.9)(3,1.78)(3,1.65)(3,1.4)(2.9,1.25)(3.1,1.25)(2.9,1.1)(3.1,1.1)(2.9,.95)(3.1,.95)(2.8,.8)(3,.8)(3.2,.8)(2.8,.65)(3,.65)(3.2,.65)(2.7,.5)(2.9,.5)(3.1,.5)(3.3,.5)(2.7,.35)(2.9,.35)(3.1,.35)(3.3,.35)(2.6,.2)(2.8,.2)(3,.2)(3.2,.2)(3.4,.2)(2.7,.08)(2.9,.08)(3.1,.08)(3.3,.08)};
\addplot[mn] coordinates {(0,.2)+-(.38,.02)(1,.67)+-(.38,.05)(2,.86)+-(.38,.06)(3,.6)+-(.38,.05)};
\sig{-.32}{1.35}{2.48}{****}
\sig{-.32}{2.34}{2.97}{****}
\sig{-.4}{3.37}{3.36}{****}
\end{axis}

\begin{axis}[pnl,low,at={(351pt,57pt)},anchor=south west,width=110pt,xmin=-.67,xmax=3.7]
\addplot[dot=black] coordinates {(0,3.02)(0,1.83)(0,1.7)(0,1.55)(0,1.4)(0,1.25)(-.1,1.1)(.1,1.1)(-.1,.95)(.1,.95)(-.1,.8)(.1,.8)(-.2,.65)(0,.65)(.2,.65)(-.2,.5)(0,.5)(.2,.5)(-.3,.35)(-.1,.35)(.1,.35)(.3,.35)(-.3,.22)(-.1,.22)(.1,.22)(.3,.22)(-.3,.12)(-.1,.12)(.1,.12)(.3,.12)};
\addplot[dot=cor] coordinates {(1,2.67)(1,2.52)(1,2.25)(1,2.1)(1,1.95)(1,1.8)(.9,1.65)(1.1,1.65)(1,1.5)(1,1.35)(.9,1.2)(1.1,1.2)(.9,1.05)(1.1,1.05)(.8,.9)(1,.9)(1.2,.9)(.8,.75)(1,.75)(1.2,.75)(.7,.6)(.9,.6)(1.1,.6)(1.3,.6)(.7,.45)(.9,.45)(1.1,.45)(1.3,.45)(.7,.3)(.9,.3)(1.1,.3)(1.3,.3)(.8,.18)(1,.18)(1.2,.18)};
\addplot[dot=crd] coordinates {(1.9,2.85)(2.1,2.85)(1.9,2.7)(2.1,2.7)(1.9,2.55)(2.1,2.55)(2,2.4)(2,2.25)(2,2.1)(1.9,1.95)(2.1,1.95)(2,1.8)(1.9,1.65)(2.1,1.65)(1.9,1.5)(2.1,1.5)(1.8,1.35)(2,1.35)(2.2,1.35)(1.7,1.2)(1.9,1.2)(2.1,1.2)(2.3,1.2)(1.7,1.05)(1.9,1.05)(2.1,1.05)(2.3,1.05)(1.7,.9)(1.9,.9)(2.1,.9)(2.3,.9)(1.7,.75)(1.9,.75)(2.1,.75)(2.3,.75)(1.7,.6)(1.9,.6)(2.1,.6)(2.3,.6)(1.7,.45)(1.9,.45)(2.1,.45)(2.3,.45)(1.8,.3)(2,.3)(2.2,.3)(1.8,.15)(2,.15)(2.2,.15)};
\addplot[dot=cpp] coordinates {(3,2.3)(3,2)(3,1.75)(3,1.6)(3,1.45)(2.9,1.3)(3.1,1.3)(2.9,1.15)(3.1,1.15)(2.8,1)(3,1)(3.2,1)(2.7,.85)(2.9,.85)(3.1,.85)(3.3,.85)(2.7,.7)(2.9,.7)(3.1,.7)(3.3,.7)(2.7,.55)(2.9,.55)(3.1,.55)(3.3,.55)(2.7,.4)(2.9,.4)(3.1,.4)(3.3,.4)(2.7,.25)(2.9,.25)(3.1,.25)(3.3,.25)(2.7,.1)(2.9,.1)(3.1,.1)(3.3,.1)};
\addplot[mn] coordinates {(0,.52)+-(.38,.03)(1,.9)+-(.38,.06)(2,1.07)+-(.38,.06)(3,.65)+-(.38,.04)};
\sig{-.4}{1.31}{3.14}{****}
\sig{-.4}{2.3}{3.54}{****}
\end{axis}

\begin{axis}[pnl,low,at={(492pt,57pt)},anchor=south west,width=110pt,xmin=-.63,xmax=3.7]
\addplot[dot=black] coordinates {(0,2.5)(0,2.38)(-.1,1.95)(.1,1.95)(0,1.7)(0,1.55)(0,1.4)(0,1.25)(0,1.1)(0,.95)(-.1,.8)(.1,.8)(-.2,.65)(0,.65)(.2,.65)(-.3,.5)(-.1,.5)(.1,.5)(.3,.5)(-.4,.38)(-.2,.38)(0,.38)(.2,.38)(.4,.38)(-.3,.25)(-.1,.25)(.1,.25)(.3,.25)(-.1,.15)(.1,.15)};
\addplot[dot=cor] coordinates {(.9,2.85)(1.1,2.85)(1,2.7)(1,2.55)(1,2.4)(1,2.25)(1,2)(1,1.85)(.9,1.7)(1.1,1.7)(.9,1.55)(1.1,1.55)(.9,1.4)(1.1,1.4)(.8,1.25)(1,1.25)(1.2,1.25)(.8,1.1)(1,1.1)(1.2,1.1)(.8,.95)(1,.95)(1.2,.95)(.7,.8)(.9,.8)(1.1,.8)(1.3,.8)(.7,.65)(.9,.65)(1.1,.65)(1.3,.65)(.7,.5)(.9,.5)(1.1,.5)(1.3,.5)(.7,.35)(.9,.35)(1.1,.35)(1.3,.35)(.8,.2)(1,.2)(1.2,.2)(.9,.1)(1.1,.1)};
\addplot[dot=crd] coordinates {(2,3.15)(1.9,3)(2.1,3)(1.9,2.85)(2.1,2.85)(2,2.7)(1.9,2.55)(2.1,2.55)(2,2.4)(1.9,2.25)(2.1,2.25)(1.9,2.1)(2.1,2.1)(1.9,1.95)(2.1,1.95)(2,1.8)(1.8,1.65)(2,1.65)(2.2,1.65)(1.8,1.5)(2,1.5)(2.2,1.5)(1.7,1.35)(1.9,1.35)(2.1,1.35)(2.3,1.35)(1.7,1.2)(1.9,1.2)(2.1,1.2)(2.3,1.2)(1.7,1.05)(1.9,1.05)(2.1,1.05)(2.3,1.05)(1.7,.9)(1.9,.9)(2.1,.9)(2.3,.9)(1.7,.75)(1.9,.75)(2.1,.75)(2.3,.75)(1.7,.6)(1.9,.6)(2.1,.6)(2.3,.6)(1.8,.45)(2,.45)(2.2,.45)(1.8,.3)(2,.3)(2.2,.3)(1.9,.15)(2.1,.15)(2,.05)};
\addplot[dot=cpp] coordinates {(3,2.78)(3,2.63)(3,2.48)(3,2.3)(2.9,2.15)(3.1,2.15)(3,2)(2.9,1.85)(3.1,1.85)(2.8,1.7)(3,1.7)(3.2,1.7)(2.8,1.55)(3,1.55)(3.2,1.55)(2.7,1.4)(2.9,1.4)(3.1,1.4)(3.3,1.4)(2.7,1.25)(2.9,1.25)(3.1,1.25)(3.3,1.25)(2.7,1.1)(2.9,1.1)(3.1,1.1)(3.3,1.1)(2.7,.95)(2.9,.95)(3.1,.95)(3.3,.95)(2.7,.8)(2.9,.8)(3.1,.8)(3.3,.8)(2.7,.65)(2.9,.65)(3.1,.65)(3.3,.65)(2.7,.5)(2.9,.5)(3.1,.5)(3.3,.5)(2.8,.35)(3,.35)(3.2,.35)(2.8,.2)(3,.2)(3.2,.2)};
\addplot[mn] coordinates {(0,.63)+-(.38,.03)(1,.93)+-(.38,.07)(2,1.2)+-(.38,.07)(3,1.07)+-(.38,.06)};
\sig{-.32}{1.31}{2.98}{***}
\sig{-.32}{2.34}{3.36}{****}
\sig{-.24}{3.33}{3.72}{****}
\end{axis}

\begin{axis}[pnl,low,at={(638pt,57pt)},anchor=south west,width=108pt,xmin=-.6,xmax=3.7]
\addplot[dot=black] coordinates {(0,2.92)(0,2.6)(0,2.3)(0,2.05)(0,1.9)(0,1.75)(0,1.6)(-.1,1.45)(.1,1.45)(-.1,1.3)(.1,1.3)(-.1,1.15)(.1,1.15)(-.2,1)(0,1)(.2,1)(-.2,.85)(0,.85)(.2,.85)(-.3,.7)(-.1,.7)(.1,.7)(.3,.7)(-.3,.55)(-.1,.55)(.1,.55)(.3,.55)(-.3,.4)(-.1,.4)(.1,.4)(.3,.4)(-.3,.25)(-.1,.25)(.1,.25)(.3,.25)(-.3,.12)(-.1,.12)(.1,.12)(.3,.12)};
\addplot[dot=cor] coordinates {(1,3.15)(.9,2.65)(1.1,2.65)(.9,2.5)(1.1,2.5)(1,1.9)(1,1.6)(1,1.45)(.9,1.3)(1.1,1.3)(1,1.15)(1,1)(1,.85)(1,.7)(.9,.55)(1.1,.55)(.8,.4)(1,.4)(1.2,.4)(.6,.25)(.8,.25)(1,.25)(1.2,.25)(1.4,.25)(.6,.12)(.8,.12)(1,.12)(1.2,.12)(1.4,.12)};
\addplot[dot=crd] coordinates {(2,2.58)(2,2.28)(2,2.02)(2,1.9)(2,1.75)(2,1.6)(2,1.45)(2,1.25)(2,1.1)(2,.95)(2,.8)(1.9,.65)(2.1,.65)(1.8,.5)(2,.5)(2.2,.5)(1.8,.35)(2,.35)(2.2,.35)(1.7,.22)(1.9,.22)(2.1,.22)(2.3,.22)(1.6,.1)(1.8,.1)(2,.1)(2.2,.1)(2.4,.1)};
\addplot[dot=cpp] coordinates {(3,2.98)(3,2.1)(3,1.65)(2.9,1.4)(3.1,1.4)(2.9,1.25)(3.1,1.25)(2.9,1.1)(3.1,1.1)(2.9,.95)(3.1,.95)(2.8,.8)(3,.8)(3.2,.8)(2.7,.65)(2.9,.65)(3.1,.65)(3.3,.65)(2.7,.5)(2.9,.5)(3.1,.5)(3.3,.5)(2.7,.35)(2.9,.35)(3.1,.35)(3.3,.35)(2.8,.2)(3,.2)(3.2,.2)(2.9,.1)(3.1,.1)};
\addplot[mn] coordinates {(0,.63)+-(.38,.03)(1,.4)+-(.38,.05)(2,.48)+-(.38,.03)(3,.6)+-(.38,.03)};
\sig{-.32}{1.35}{3.32}{***}
\end{axis}
\end{tikzpicture}
\end{document}
